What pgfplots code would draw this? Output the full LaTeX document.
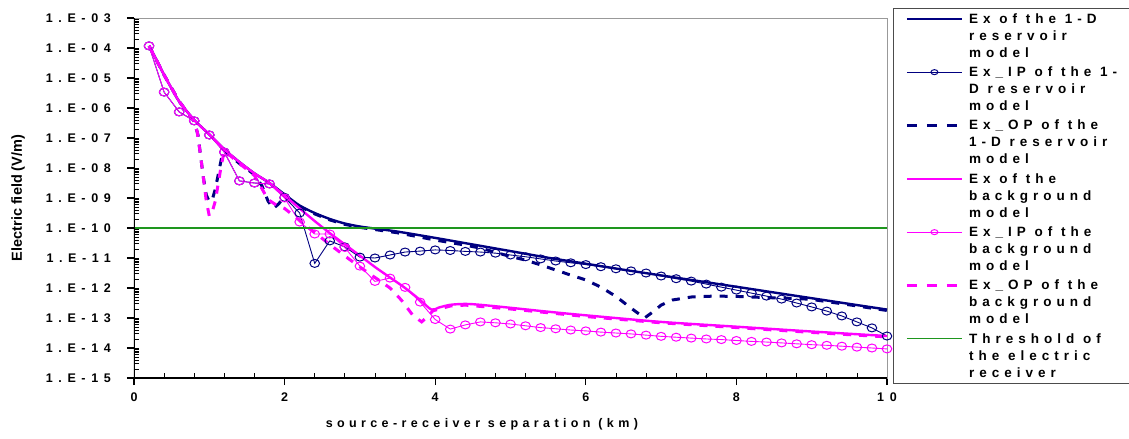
\documentclass[border=0pt]{standalone}
\usepackage{pgfplots}
\pgfplotsset{compat=1.18}
\usepackage{fontspec}
\setmainfont{Liberation Sans}
\newfontfamily\tickfam[LetterSpace=45]{Liberation Sans}
\newfontfamily\legfam[LetterSpace=37]{Liberation Sans}
\newfontfamily\xlabfam[LetterSpace=35]{Liberation Sans}
\definecolor{navy}{RGB}{0,0,128}
\definecolor{mag}{RGB}{255,0,255}
\definecolor{thr}{RGB}{30,150,30}
\newcommand\legtext[3]{\begin{tabular}[t]{@{}l@{}}#1\\#2\\\makebox[175bp][l]{#3}\end{tabular}}
\begin{document}
\begin{tikzpicture}
\begin{axis}[
  at={(0,0)}, anchor=south west,
  scale only axis, width=753bp, height=360bp,
  xmin=0, xmax=10, ymin=1e-15, ymax=1e-3, ymode=log,
  xtick={0,2,4,6,8,10}, xticklabels={0,2,4,6,8,10},
  minor x tick num=4,
  ytick={1e-15,1e-14,1e-13,1e-12,1e-11,1e-10,1e-9,1e-8,1e-7,1e-6,1e-5,1e-4,1e-3},
  yticklabels={1.E-15,1.E-14,1.E-13,1.E-12,1.E-11,1.E-10,1.E-09,1.E-08,1.E-07,1.E-06,1.E-05,1.E-04,1.E-03},
  xtick pos=bottom, ytick pos=left,
  tick align=outside, major tick length=7bp, minor tick length=5bp,
  every minor x tick/.append style={yshift=5bp},
  every minor y tick/.append style={xshift=5bp},
  major tick style={line width=1.1bp, black},
  minor tick style={line width=0.7bp, black},
  axis line style={draw=gray!80, line width=0.8bp},
  yticklabel style={font=\tickfam\bfseries\fontsize{12.5bp}{15bp}\selectfont, anchor=east, inner sep=0pt, xshift=-16bp},
  xticklabel style={font=\tickfam\bfseries\fontsize{12.5bp}{15bp}\selectfont, anchor=north, inner sep=0pt, yshift=-8bp},
  xlabel={source-receiver separation (km)},
  ylabel={Electric field (V/m)},
  every axis x label/.style={at={(axis description cs:0.462,-0.128)}, anchor=center, font=\xlabfam\bfseries\fontsize{12.5bp}{15bp}\selectfont},
  every axis y label/.style={at={(axis description cs:-0.154,0.5)}, rotate=90, anchor=center, font=\bfseries\fontsize{14.5bp}{17bp}\selectfont},
  legend style={at={(axis description cs:1.008,1.028)}, anchor=north west,
    draw=black!70, line width=0.8bp, fill=white,
    inner xsep=12bp, inner ysep=5bp, column sep=6bp, row sep=8.33bp,
    font=\legfam\bfseries\fontsize{13.5bp}{17bp}\selectfont,
    cells={anchor=base west},
    nodes={inner sep=0pt, text height=10bp, text depth=35bp}},
]
% Ex of the 1-D reservoir model
\addplot[navy, line width=2.4bp, smooth,
  legend image code/.code={\draw[navy, line width=2.4bp] (0bp,4.5bp) -- (55bp,4.5bp);}]
 coordinates {(0.2,1.175e-4)(0.3,3.98e-5)(0.4,1.26e-5)(0.5,4.47e-6)(0.6,1.66e-6)(0.8,3.98e-7)(1.0,1.32e-7)(1.2,4.17e-8)(1.4,1.58e-8)(1.6,6.61e-9)(1.8,3.16e-9)(2.0,1.32e-9)(2.2,5.62e-10)(2.4,3.16e-10)(2.6,2.0e-10)(2.8,1.41e-10)(3.0,1.12e-10)(3.2,9.55e-11)(3.5,7.59e-11)(4.0,4.68e-11)(4.5,2.82e-11)(5.0,1.70e-11)(5.5,1.02e-11)(6.0,6.46e-12)(6.5,4.07e-12)(7.0,2.63e-12)(7.5,1.70e-12)(8.0,1.10e-12)(8.5,7.08e-13)(9.0,4.57e-13)(9.5,2.95e-13)(10.0,1.91e-13)};
\addlegendentry{\legtext{Ex of the 1-D}{reservoir}{model}}
% Ex_IP of the 1-D reservoir model
\addplot[navy, line width=0.9bp, mark=o, mark size=4bp, mark options={line width=1bp, xscale=1.2},
  legend image code/.code={\draw[navy, line width=0.9bp] (0bp,4.5bp) -- (55bp,4.5bp); \draw[navy, line width=1bp] (27.5bp,4.5bp) ellipse (3.5bp and 2.5bp);}]
 coordinates {(0.2,1.175e-4)(0.4,3.39e-6)(0.6,7.41e-7)(0.8,3.72e-7)(1.0,1.26e-7)(1.2,3.39e-8)(1.4,3.72e-9)(1.6,3.16e-9)(1.8,2.95e-9)(2.0,1.05e-9)(2.2,3.16e-10)(2.4,6.61e-12)(2.6,3.72e-11)(2.8,2.34e-11)(3.0,1.07e-11)(3.2,1.0e-11)(3.4,1.26e-11)(3.6,1.58e-11)(3.8,1.70e-11)(4.0,1.86e-11)(4.2,1.78e-11)(4.4,1.66e-11)(4.6,1.58e-11)(4.8,1.45e-11)(5.0,1.26e-11)(5.2,1.10e-11)(5.4,9.33e-12)(5.6,7.94e-12)(5.8,6.92e-12)(6.0,6.03e-12)(6.2,5.13e-12)(6.4,4.37e-12)(6.6,3.72e-12)(6.8,3.16e-12)(7.0,2.51e-12)(7.2,2.04e-12)(7.4,1.70e-12)(7.6,1.35e-12)(7.8,1.07e-12)(8.0,8.51e-13)(8.2,6.76e-13)(8.4,5.37e-13)(8.6,4.27e-13)(8.8,3.16e-13)(9.0,2.34e-13)(9.2,1.70e-13)(9.4,1.17e-13)(9.6,7.41e-14)(9.8,4.68e-14)(10.0,2.51e-14)};
\addlegendentry{\legtext{Ex\_IP of the 1-}{D reservoir}{model}}
% Ex_OP of the 1-D reservoir model
\addplot[navy, line width=3bp, dash pattern=on 8bp off 8bp,
  legend image code/.code={\draw[navy, line width=3bp, dash pattern=on 10bp off 10bp] (0bp,4.5bp) -- (50bp,4.5bp);}]
 coordinates {(0.2,1.175e-4)(0.4,1.26e-5)(0.6,1.66e-6)(0.8,3.55e-7)(0.85,1.26e-7)(0.88,3.16e-8)(0.92,5.01e-9)(0.96,1.26e-9)(1.0,7.59e-10)(1.04,8.91e-10)(1.08,2.0e-9)(1.12,6.31e-9)(1.16,2.0e-8)(1.2,3.80e-8)(1.4,1.41e-8)(1.6,6.03e-9)(1.7,2.51e-9)(1.78,7.94e-10)(1.85,4.47e-10)(1.92,6.31e-10)(2.0,1.12e-9)(2.2,5.25e-10)(2.4,2.95e-10)(2.6,1.86e-10)(2.8,1.32e-10)(3.0,1.05e-10)(3.5,6.92e-11)(4.0,3.98e-11)(4.4,2.69e-11)(4.6,2.14e-11)(5.0,1.12e-11)(5.2,8.51e-12)(5.4,5.89e-12)(5.6,3.98e-12)(5.8,2.69e-12)(6.0,1.86e-12)(6.2,1.07e-12)(6.4,5.25e-13)(6.6,2.14e-13)(6.78,1.0e-13)(6.9,1.66e-13)(7.0,2.69e-13)(7.15,3.98e-13)(7.4,5.01e-13)(7.7,5.37e-13)(8.0,5.25e-13)(8.4,4.79e-13)(8.8,4.47e-13)(9.0,4.17e-13)(9.5,2.75e-13)(10.0,1.78e-13)};
\addlegendentry{\legtext{Ex\_OP of the}{1-D reservoir}{model}}
% Ex of the background model
\addplot[mag, line width=2.4bp, smooth,
  legend image code/.code={\draw[mag, line width=2.4bp] (0bp,4.5bp) -- (55bp,4.5bp);}]
 coordinates {(0.2,1.175e-4)(0.3,3.98e-5)(0.4,1.26e-5)(0.5,4.47e-6)(0.6,1.66e-6)(0.8,3.98e-7)(1.0,1.32e-7)(1.2,4.17e-8)(1.4,1.58e-8)(1.6,6.61e-9)(1.8,3.16e-9)(2.0,1.20e-9)(2.2,4.47e-10)(2.4,1.70e-10)(2.6,6.76e-11)(2.8,2.82e-11)(3.0,1.20e-11)(3.2,5.01e-12)(3.4,2.24e-12)(3.6,1.0e-12)(3.8,3.98e-13)(3.95,1.91e-13)(4.05,2.24e-13)(4.2,2.75e-13)(4.4,2.95e-13)(4.6,2.75e-13)(5.0,2.19e-13)(5.5,1.62e-13)(6.0,1.23e-13)(7.0,7.41e-14)(8.0,5.13e-14)(9.0,3.55e-14)(10.0,2.51e-14)};
\addlegendentry{\legtext{Ex of the}{background}{model}}
% Ex_IP of the background model
\addplot[mag, line width=0.9bp, mark=o, mark size=4bp, mark options={line width=1bp, xscale=1.2},
  legend image code/.code={\draw[mag, line width=0.9bp] (0bp,4.5bp) -- (55bp,4.5bp); \draw[mag, line width=1bp] (27.5bp,4.5bp) ellipse (3.5bp and 2.5bp);}]
 coordinates {(0.2,1.175e-4)(0.4,3.39e-6)(0.6,7.41e-7)(0.8,3.72e-7)(1.0,1.26e-7)(1.2,3.39e-8)(1.4,3.72e-9)(1.6,3.16e-9)(1.8,2.95e-9)(2.0,1.0e-9)(2.2,1.58e-10)(2.4,6.31e-11)(2.6,6.31e-11)(2.8,2.24e-11)(3.0,5.37e-12)(3.2,1.66e-12)(3.4,2.14e-12)(3.6,1.05e-12)(3.8,3.39e-13)(4.0,8.91e-14)(4.2,4.27e-14)(4.4,5.89e-14)(4.6,7.41e-14)(4.8,6.92e-14)(5.0,6.31e-14)(5.2,5.50e-14)(5.4,4.79e-14)(5.6,4.37e-14)(5.8,3.98e-14)(6.0,3.72e-14)(6.2,3.39e-14)(6.4,3.16e-14)(6.6,2.95e-14)(6.8,2.69e-14)(7.0,2.45e-14)(7.2,2.29e-14)(7.4,2.14e-14)(7.6,2.0e-14)(7.8,1.91e-14)(8.0,1.78e-14)(8.2,1.66e-14)(8.4,1.58e-14)(8.6,1.48e-14)(8.8,1.38e-14)(9.0,1.29e-14)(9.2,1.23e-14)(9.4,1.15e-14)(9.6,1.07e-14)(9.8,1.0e-14)(10.0,9.33e-15)};
\addlegendentry{\legtext{Ex\_IP of the}{background}{model}}
% Ex_OP of the background model
\addplot[mag, line width=3bp, dash pattern=on 8bp off 8bp,
  legend image code/.code={\draw[mag, line width=3bp, dash pattern=on 10bp off 10bp] (0bp,4.5bp) -- (50bp,4.5bp);}]
 coordinates {(0.2,1.175e-4)(0.4,1.26e-5)(0.6,1.66e-6)(0.8,3.55e-7)(0.84,1.58e-7)(0.88,3.16e-8)(0.92,5.01e-9)(0.96,7.94e-10)(1.0,2.51e-10)(1.04,3.55e-10)(1.08,7.94e-10)(1.12,3.16e-9)(1.16,1.26e-8)(1.2,3.80e-8)(1.4,1.41e-8)(1.6,5.62e-9)(1.78,8.91e-10)(1.9,5.62e-10)(2.0,4.47e-10)(2.2,1.78e-10)(2.4,7.08e-11)(2.6,2.82e-11)(2.8,1.17e-11)(3.0,5.01e-12)(3.2,2.24e-12)(3.4,1.0e-12)(3.55,3.98e-13)(3.7,1.26e-13)(3.82,7.41e-14)(3.9,1.12e-13)(3.97,1.74e-13)(4.2,2.51e-13)(4.4,2.69e-13)(5.0,2.0e-13)(6.0,1.12e-13)(7.0,6.92e-14)(8.0,4.79e-14)(9.0,3.31e-14)(10.0,2.34e-14)};
\addlegendentry{\legtext{Ex\_OP of the}{background}{model}}
% Threshold
\addplot[thr, line width=1.2bp,
  legend image code/.code={\draw[thr, line width=1.2bp] (0bp,4.5bp) -- (55bp,4.5bp);}]
 coordinates {(0,1e-10)(10,1e-10)};
\addlegendentry{\legtext{Threshold of}{the electric}{receiver}}
\draw[black, line width=2bp] (rel axis cs:0,1) -- (rel axis cs:0,0) -- (rel axis cs:1,0);
\end{axis}
\pgfresetboundingbox
\path[use as bounding box] (-134bp,-61bp) rectangle (995bp,378bp);
\end{tikzpicture}
\end{document}
